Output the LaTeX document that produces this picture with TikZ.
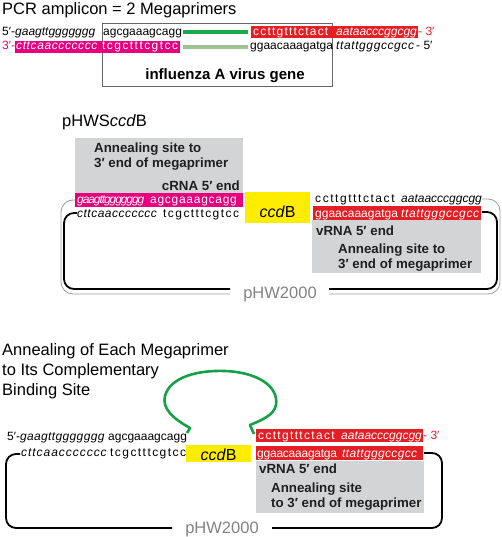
\documentclass[tikz,border=0pt]{standalone}
\usepackage{fontspec}
\setmainfont{Liberation Sans}
\usepackage{xcolor}
\usepackage{tikz}
\usetikzlibrary{positioning,calc}

\definecolor{primerred}{RGB}{227,30,36}
\definecolor{primerpink}{RGB}{230,0,126}
\definecolor{ccdyellow}{RGB}{255,237,0}
\definecolor{sitegray}{RGB}{211,212,214}
\definecolor{bargreen}{RGB}{26,170,74}
\definecolor{barlight}{RGB}{160,194,146}
\definecolor{loopgreen}{RGB}{22,160,72}
\definecolor{labelgray}{RGB}{130,130,130}

\newcommand\ls[1]{\addfontfeature{LetterSpace=#1}}

\tikzset{
  seq/.style={font=\fontsize{12}{14}\selectfont, inner sep=0pt, anchor=base west},
  heading/.style={font=\fontsize{16.5}{20}\selectfont, inner sep=0pt, anchor=base west},
  note/.style={font=\fontsize{13.3}{16}\selectfont\bfseries, text=black!88, inner sep=0pt, anchor=base west},
  plasmid/.style={font=\fontsize{16.5}{20}\selectfont, text=labelgray, inner sep=0pt, anchor=base},
  ccdlabel/.style={font=\fontsize{16}{18}\selectfont, inner sep=0pt, anchor=base},
  bar/.style={line width=4pt},
  backbone/.style={line width=1.8pt, rounded corners=10pt},
  backbonethin/.style={labelgray!80, line width=0.8pt, rounded corners=12pt},
}

\begin{document}
\begin{tikzpicture}[x=1pt,y=-1pt]
        \useasboundingbox (0,0) rectangle (502,537);

        % PCR amplicon (top)
        \begin{scope}
            \node[heading] (title1) at (2,14.5) {PCR amplicon = 2 Megaprimers};
            \draw[black!60,line width=0.8pt] (102,23) rectangle (332,86);
            \node[font=\fontsize{15}{18}\selectfont\bfseries, anchor=base, inner sep=0pt] (gene) at (225,80) {influenza A virus gene};

            % upper strand
            \fill[primerred] (251,26) rectangle (418,38);
            \node[seq] (up5) at (2,35.5) {5′-};
            \node[seq] (upA) at (15,35.5) {\itshape gaagttggggggg};
            \node[seq] (upB) at (103,35.5) {agcgaaagcagg};
            \draw[bar,bargreen] (183,32.5) -- (248,32.5);
            \node[seq,text=white] (upC) at (253,35.5) {\ls{10}ccttgtttctact};
            \node[seq,text=white] (upD) at (336,35.5) {\itshape aataacccggcgg};
            \node[seq,text=primerred] (up3) at (418,35.5) {- 3′};

            % lower strand
            \fill[primerpink] (15,41) rectangle (180,53);
            \node[seq,text=primerpink] (lo3) at (2,50) {3′-};
            \node[seq,text=white] (loA) at (16,50) {\itshape\ls{5}cttcaaccccccc};
            \node[seq,text=white] (loB) at (102,50) {\ls{12}tcgctttcgtcc};
            \draw[bar,barlight] (183,47.5) -- (248,47.5);
            \node[seq] (loC) at (250,50) {ggaacaaagatga};
            \node[seq] (loD) at (336,50) {\itshape\ls{5}ttattgggccgcc};
            \node[seq] (lo5) at (416,50) {- 5′};
        \end{scope}

        % pHWSccdB (middle)
        \begin{scope}
            \node[heading] (title2) at (62,126.5) {pHWS\textit{ccd}B};

            \fill[sitegray] (75,138) rectangle (243,193);
            \node[note] (siteA1) at (94,153) {Annealing site to};
            \node[note] (siteA2) at (94,168) {3′ end of megaprimer};
            \node[note,anchor=base east] (crna) at (240,190) {cRNA 5′ end};

            \fill[primerpink] (75,193) rectangle (243,207);
            \node[seq,text=white] (cA) at (77,204) {\itshape\ls{-9}gaagttggggggg};
            \node[seq,text=white] (cB) at (150,204) {\ls{6}agcgaaagcagg};
            \node[seq] (cC) at (77,218) {\itshape\ls{4}cttcaaccccccc};
            \node[seq] (cD) at (163,218) {\ls{12}tcgctttcgtcc};

            \fill[ccdyellow] (245,192) rectangle (310,223);
            \node[ccdlabel] (ccd1) at (277.5,218) {\textit{ccd}B};

            \node[seq] (vA) at (315,203) {\ls{13}ccttgtttctact};
            \node[seq] (vB) at (401,203) {\itshape aataacccggcgg};
            \fill[primerred] (313,206) rectangle (481,220);
            \node[seq,text=white] (vC) at (315,217) {ggaacaaagatga};
            \node[seq,text=white] (vD) at (401,217) {\itshape\ls{5}ttattgggccgcc};

            \fill[sitegray] (312,220) rectangle (481,273);
            \node[note] (vrna) at (316,235) {vRNA 5′ end};
            \node[note] (siteB1) at (338,253) {Annealing site to};
            \node[note] (siteB2) at (338,268) {3′ end of megaprimer};

            \node[plasmid] (pw1) at (280,298) {pHW2000};
            \draw[backbonethin] (75,200) -- (61,200) -- (61,294) -- (230,294);
            \draw[backbonethin] (329,294) -- (500,294) -- (500,199) -- (482,199);
            \draw[backbone] (77,213) -- (64,213) -- (64,289) -- (230,289);
            \draw[backbone] (329,289) -- (497,289) -- (497,212) -- (482,212);
        \end{scope}

        % Annealing of megaprimers (bottom)
        \begin{scope}
            \node[heading] (title3a) at (2,355) {Annealing of Each Megaprimer};
            \node[heading] (title3b) at (2,375) {to Its Complementary};
            \node[heading] (title3c) at (2,395) {Binding Site};

            \node[seq] (mA) at (7,440) {5′-\itshape\ls{3}gaagttggggggg};
            \node[seq] (mB) at (108,440) {agcgaaagcagg};
            \node[seq] (mC) at (21,456) {\itshape\ls{8}cttcaaccccccc};
            \node[seq] (mD) at (110,456) {\ls{12}tcgctttcgtcc};

            \fill[ccdyellow] (186,445) rectangle (251,462);
            \node[ccdlabel] (ccd2) at (218.5,460) {\textit{ccd}B};

            \fill[primerred] (256,429) rectangle (423,442);
            \node[seq,text=white] (nA) at (258,439.5) {\ls{11}ccttgtttctact};
            \node[seq,text=white] (nB) at (341,439.5) {\itshape aataacccggcgg};
            \node[seq,text=primerred] (n3) at (423,439.5) {- 3′};
            \fill[primerred] (256,446) rectangle (423,460);
            \node[seq,text=white] (nC) at (257,457) {\ls{-2}ggaacaaagatga};
            \node[seq,text=white] (nD) at (342,457) {\itshape\ls{3}ttattgggccgcc};

            \fill[sitegray] (256,461) rectangle (424,513);
            \node[note] (vrna2) at (259,473) {vRNA 5′ end};
            \node[note] (siteC1) at (271,492) {Annealing site};
            \node[note] (siteC2) at (271,507) {to 3′ end of megaprimer};

            % megaprimer loop
            \draw[loopgreen,line width=2.6pt,line join=round]
                (187,433) -- (190,428) .. controls (172,418) and (162,408) .. (165,396)
                .. controls (170,377) and (198,370) .. (225,371)
                .. controls (255,372) and (279,385) .. (276,405)
                .. controls (274,415) and (262,420) .. (250,425) -- (254,434);

            \node[plasmid] (pw2) at (222,533) {pHW2000};
            \draw[backbone] (20,454) -- (6,454) -- (6,528) -- (172,528);
            \draw[backbone] (272,528) -- (442,528) -- (442,453) -- (424,453);
        \end{scope}

    \end{tikzpicture}
\end{document}
